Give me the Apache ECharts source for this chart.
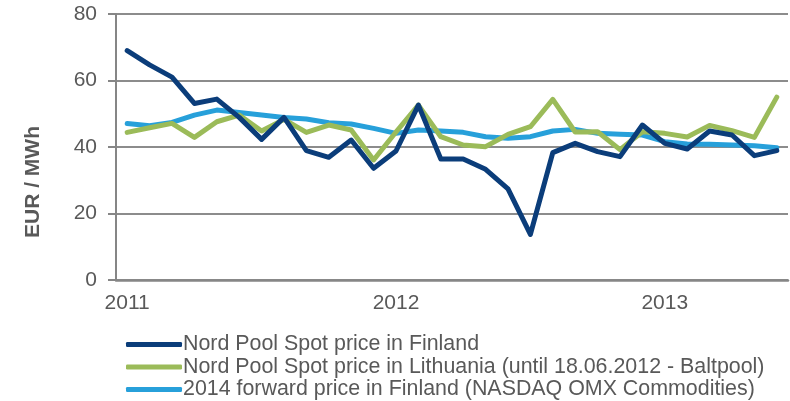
<!DOCTYPE html>
<html>
<head>
<meta charset="utf-8">
<script src="https://cdn.jsdelivr.net/npm/echarts@6/dist/echarts.min.js"></script>
<style>html,body{margin:0;padding:0;background:#fff}#c{width:790px;height:401px}</style>
</head>
<body>
<div id="c"></div>
<script>
var months = ['2011-01','2011-02','2011-03','2011-04','2011-05','2011-06','2011-07','2011-08','2011-09','2011-10','2011-11','2011-12',
              '2012-01','2012-02','2012-03','2012-04','2012-05','2012-06','2012-07','2012-08','2012-09','2012-10','2012-11','2012-12',
              '2013-01','2013-02','2013-03','2013-04','2013-05','2013-06'];
var finland = [69.0,64.7,61.0,53.1,54.4,48.9,42.3,48.9,38.9,36.9,42.1,33.6,
               38.8,52.6,36.4,36.4,33.3,27.4,13.7,38.3,41.1,38.6,37.1,46.6,
               41.1,39.4,44.8,43.6,37.4,38.9];
var lithuania = [44.4,45.8,47.1,42.9,47.6,49.6,44.8,48.3,44.4,46.6,45.1,36.1,
                 44.5,52.6,43.1,40.6,40.1,43.8,46.1,54.3,44.5,44.6,39.2,44.6,
                 44.1,43.0,46.5,44.9,42.9,55.0];
var forward = [47.1,46.4,47.4,49.6,51.1,50.4,49.6,48.9,48.4,47.3,46.9,45.6,
               44.1,45.1,44.8,44.4,43.1,42.6,43.1,44.8,45.3,44.1,43.8,43.6,
               41.6,40.9,40.8,40.6,40.4,39.8];
var seriesNames = ['Nord Pool Spot price in Finland',
                   'Nord Pool Spot price in Lithuania (until 18.06.2012 - Baltpool)',
                   '2014 forward price in Finland (NASDAQ OMX Commodities)'];
var colors = ['#0b3d7a','#9bbb59','#27a0da'];
var yTicks = {min:0, max:80, interval:20};

var chart = echarts.init(document.getElementById('c'));
var font = '"Liberation Sans", Arial, sans-serif';
function mk(i, data){
  return {name:seriesNames[i], type:'line', data:data, symbol:'none', smooth:false,
    lineStyle:{color:colors[i], width:5, cap:'round', join:'round'}, itemStyle:{color:colors[i]}, z: 10 - i};
}
function lg(i){
  return {orient:'vertical', left:121, top:329 + i*22.5, itemWidth:56, itemHeight:5, icon:'roundRect',
    textStyle:{fontFamily:font, fontSize:21.4, color:'#595959', padding:[0,0,0,-4]},
    data:[seriesNames[i]]};
}
chart.setOption({
  animation:false,
  grid:{left:116, right:2, top:14, bottom:121, containLabel:false},
  legend:[lg(0), lg(1), lg(2)],
  xAxis:{type:'category', data:months, boundaryGap:true,
    axisLine:{lineStyle:{color:'#868686', width:2.5}},
    axisTick:{show:false},
    axisLabel:{fontFamily:font, fontSize:21, color:'#595959', margin:13,
      interval:function(idx, val){return val.slice(5)==='01';},
      formatter:function(v){return v.slice(0,4);}},
    splitLine:{show:false}},
  yAxis:{type:'value', min:yTicks.min, max:yTicks.max, interval:yTicks.interval,
    name:'EUR / MWh', nameLocation:'middle', nameGap:72, nameRotate:90,
    nameTextStyle:{fontFamily:font, fontSize:21, fontWeight:'bold', color:'#595959', padding:[0,70,0,0]},
    axisLine:{show:true, lineStyle:{color:'#868686', width:2}},
    axisTick:{show:true, inside:false, length:8, lineStyle:{color:'#868686', width:2}},
    axisLabel:{fontFamily:font, fontSize:21, color:'#595959', margin:19},
    splitLine:{lineStyle:{color:'#8c8c8c', width:2}}},
  series:[mk(2, forward), mk(1, lithuania), mk(0, finland)]
});
</script>
</body>
</html>
